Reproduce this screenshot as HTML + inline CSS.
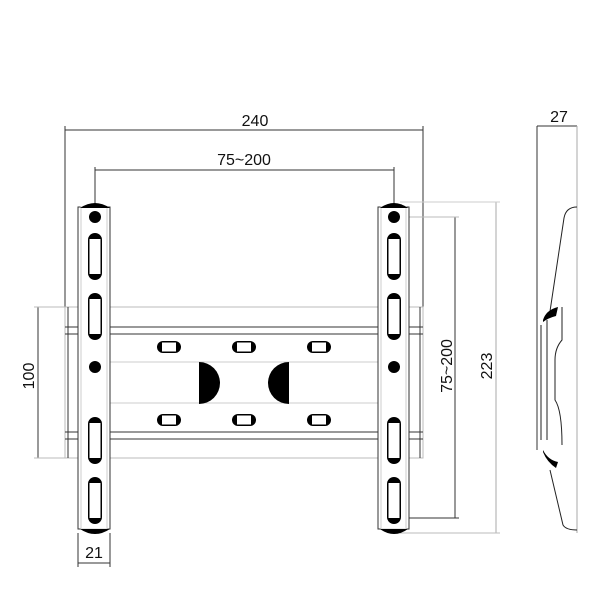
<!DOCTYPE html>
<html><head><style>body{margin:0;background:#fff}svg{display:block}text{font-family:"Liberation Sans",sans-serif;font-size:16px;fill:#111}</style></head>
<body>
<svg width="600" height="600" viewBox="0 0 600 600" xmlns="http://www.w3.org/2000/svg">
<defs>
<g id="vs"><rect x="0" y="0" width="14" height="47" rx="7" fill="#000"/><rect x="1" y="6" width="12" height="35" fill="#fff"/><line x1="1" y1="6" x2="1" y2="41" stroke="#000"/><line x1="13" y1="6" x2="13" y2="41" stroke="#000"/></g>
<g id="hs"><rect x="0" y="0" width="24" height="12" rx="6" fill="#000"/><rect x="5" y="1" width="14" height="10" fill="#fff"/><line x1="5" y1="1" x2="19" y2="1" stroke="#000"/><line x1="5" y1="11" x2="19" y2="11" stroke="#000"/></g>
</defs>
<g stroke="#333" stroke-width="1" fill="none">
<line x1="65" y1="130" x2="423" y2="130"/><line x1="65" y1="126" x2="65" y2="308"/><line x1="423" y1="126" x2="423" y2="308"/>
<line x1="95" y1="170" x2="394" y2="170"/><line x1="95" y1="167" x2="95" y2="215"/><line x1="394" y1="167" x2="394" y2="215"/>
<line x1="537" y1="126" x2="577" y2="126"/><line x1="537" y1="126" x2="537" y2="450"/><line x1="577" y1="126" x2="577" y2="533" stroke="#aaa"/>
<line x1="38" y1="307" x2="38" y2="458"/><line x1="34" y1="307" x2="66" y2="307" stroke="#bbb"/><line x1="34" y1="458" x2="66" y2="458" stroke="#bbb"/>
<line x1="78" y1="563" x2="110" y2="563"/><line x1="78" y1="533" x2="78" y2="567"/><line x1="110" y1="533" x2="110" y2="567"/>
<line x1="455" y1="217" x2="455" y2="518"/><line x1="400" y1="217" x2="459" y2="217" stroke="#bbb"/><line x1="400" y1="518" x2="459" y2="518"/>
<line x1="496" y1="202" x2="496" y2="533" stroke="#aaa"/><line x1="400" y1="202" x2="500" y2="202" stroke="#ccc"/><line x1="400" y1="533" x2="500" y2="533" stroke="#bbb"/>
<rect x="65" y="307" width="358" height="151" stroke="#bbb"/>
<line x1="65" y1="327" x2="423" y2="327"/><line x1="65" y1="334" x2="423" y2="334"/>
<line x1="65" y1="432" x2="423" y2="432"/><line x1="65" y1="439" x2="423" y2="439"/>
<line x1="68" y1="307" x2="68" y2="458"/><line x1="420" y1="307" x2="420" y2="458"/>
<line x1="110" y1="362" x2="378" y2="362" stroke="#ccc"/><line x1="110" y1="403" x2="378" y2="403" stroke="#ccc"/>
<rect x="78" y="207" width="32" height="322" fill="#fff"/><rect x="81" y="207" width="26" height="322" stroke="#ccc"/>
<rect x="378" y="207" width="31" height="322" fill="#fff"/><rect x="381" y="207" width="25" height="322" stroke="#ccc"/>
</g>
<g fill="#000">
<path d="M80 208 Q95 198 110 208Z"/><path d="M80 529 Q95 539 110 529Z"/>
<path d="M380 208 Q394 198 408 208Z"/><path d="M380 529 Q394 539 408 529Z"/>
<circle cx="95" cy="217" r="6"/><circle cx="95" cy="367" r="6"/>
<circle cx="394" cy="217" r="6"/><circle cx="394" cy="367" r="6"/>
<path d="M199 362 A21 21 0 0 1 199 404Z"/><path d="M289 362 A21 21 0 0 0 289 404Z"/>
</g>
<use href="#vs" x="88" y="233"/><use href="#vs" x="88" y="293"/><use href="#vs" x="88" y="417"/><use href="#vs" x="88" y="477"/>
<use href="#vs" x="387" y="233"/><use href="#vs" x="387" y="293"/><use href="#vs" x="387" y="417"/><use href="#vs" x="387" y="477"/>
<use href="#hs" x="157" y="341"/><use href="#hs" x="232" y="341"/><use href="#hs" x="307" y="341"/>
<use href="#hs" x="157" y="414"/><use href="#hs" x="232" y="414"/><use href="#hs" x="307" y="414"/>
<g stroke="#222" fill="none" stroke-width="1">
<path d="M577 207 Q566 207 564 218 L549 318"/>
<path d="M562 307 L562 340 Q555 348 555 360 L555 400 Q562 410 562 445"/>
<path d="M547 320 L547 440"/>
<path d="M541 325 L541 440"/>
<path d="M550 470 L563 525 Q566 530 577 530"/>
</g>
<g fill="#000">
<path d="M543 320 Q546 310 558 307 L556 316 Q548 318 543 322Z"/>
<path d="M543 450 Q548 460 558 462 L556 468 Q547 462 543 452Z"/>
</g>
<text x="255" y="126" text-anchor="middle">240</text>
<text x="244" y="165" text-anchor="middle">75~200</text>
<text x="559" y="122" text-anchor="middle">27</text>
<text x="94" y="558" text-anchor="middle">21</text>
<text transform="translate(34,376) rotate(-90)" text-anchor="middle">100</text>
<text transform="translate(452,366) rotate(-90)" text-anchor="middle">75~200</text>
<text transform="translate(492,366) rotate(-90)" text-anchor="middle">223</text>
</svg>
</body></html>
